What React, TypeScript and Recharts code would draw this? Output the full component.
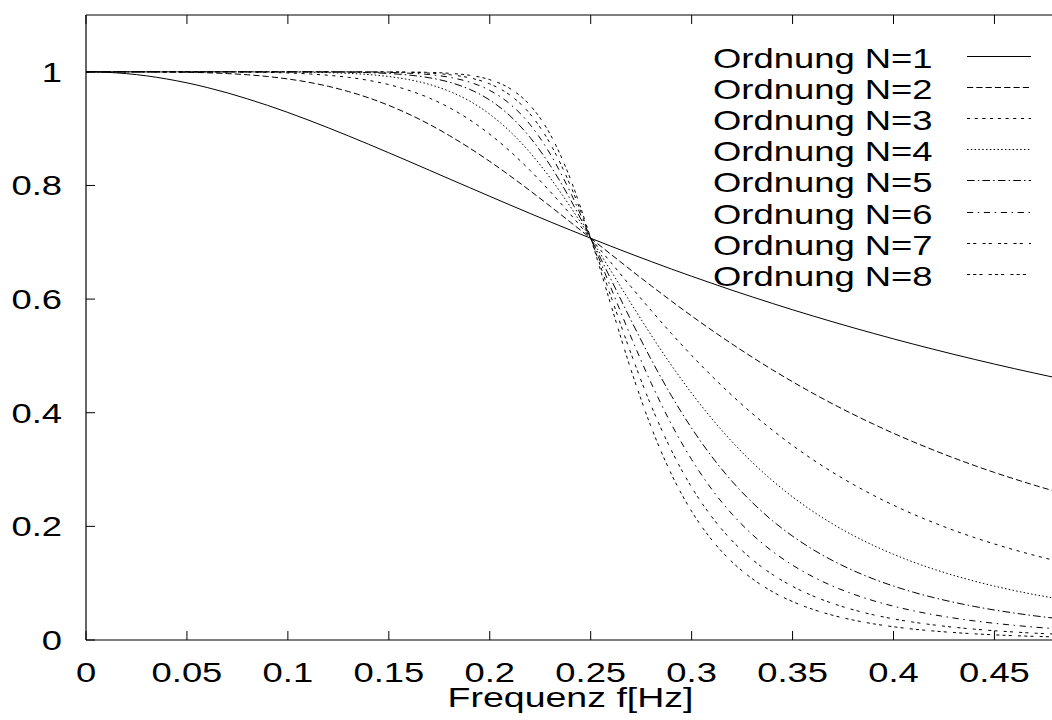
import { LineChart, Line, XAxis, YAxis, Legend } from 'recharts';

// Frequenz-Stützstellen (Hz)
const freq = [
  0, 0.01, 0.02, 0.03, 0.04, 0.05, 0.06, 0.07, 0.08, 0.09,
  0.1, 0.11, 0.12, 0.13, 0.14, 0.15, 0.16, 0.17, 0.18, 0.19,
  0.2, 0.21, 0.22, 0.23, 0.24, 0.25, 0.26, 0.27, 0.28, 0.29,
  0.3, 0.31, 0.32, 0.33, 0.34, 0.35, 0.36, 0.37, 0.38, 0.39,
  0.4, 0.41, 0.42, 0.43, 0.44, 0.45, 0.46, 0.47, 0.48,
];

// Amplitudengang je Ordnung
const n1 = [1, 0.9992, 0.9968, 0.9929, 0.9874, 0.9806, 0.9724, 0.963, 0.9524, 0.9409, 0.9285, 0.9153, 0.9015, 0.8872, 0.8725, 0.8575, 0.8423, 0.8269, 0.8115, 0.7962, 0.7809, 0.7657, 0.7507, 0.7359, 0.7214, 0.7071, 0.6931, 0.6794, 0.666, 0.6529, 0.6402, 0.6278, 0.6156, 0.6039, 0.5924, 0.5812, 0.5704, 0.5599, 0.5496, 0.5397, 0.53, 0.5206, 0.5115, 0.5026, 0.494, 0.4856, 0.4775, 0.4696, 0.4619];
const n2 = [1, 1, 1, 0.9999, 0.9997, 0.9992, 0.9983, 0.9969, 0.9948, 0.9917, 0.9874, 0.9818, 0.9745, 0.9653, 0.9542, 0.9409, 0.9254, 0.9077, 0.8878, 0.8659, 0.8423, 0.8171, 0.7906, 0.7633, 0.7353, 0.7071, 0.6789, 0.6509, 0.6234, 0.5965, 0.5704, 0.5452, 0.521, 0.4978, 0.4756, 0.4545, 0.4344, 0.4153, 0.3972, 0.3801, 0.3638, 0.3485, 0.334, 0.3202, 0.3072, 0.2949, 0.2833, 0.2722, 0.2618];
const n3 = [1, 1, 1, 1, 1, 1, 0.9999, 0.9998, 0.9995, 0.9989, 0.998, 0.9964, 0.9939, 0.9903, 0.9849, 0.9775, 0.9673, 0.954, 0.9369, 0.9157, 0.8901, 0.8603, 0.8264, 0.789, 0.749, 0.7071, 0.6644, 0.6217, 0.5799, 0.5394, 0.5009, 0.4645, 0.4304, 0.3987, 0.3694, 0.3424, 0.3176, 0.2948, 0.2739, 0.2547, 0.2372, 0.2211, 0.2064, 0.1928, 0.1804, 0.169, 0.1585, 0.1488, 0.1399];
const n4 = [1, 1, 1, 1, 1, 1, 1, 1, 0.9999, 0.9999, 0.9997, 0.9993, 0.9986, 0.9973, 0.9952, 0.9917, 0.9862, 0.9779, 0.9657, 0.9486, 0.9254, 0.8952, 0.8576, 0.8129, 0.7622, 0.7071, 0.6498, 0.5923, 0.5364, 0.4835, 0.4344, 0.3896, 0.3491, 0.3128, 0.2806, 0.2519, 0.2265, 0.204, 0.1841, 0.1665, 0.1508, 0.1369, 0.1246, 0.1135, 0.1037, 0.0948, 0.0869, 0.0798, 0.0734];
const n5 = [1, 1, 1, 1, 1, 1, 1, 1, 1, 1, 0.9999, 0.9999, 0.9997, 0.9993, 0.9985, 0.997, 0.9943, 0.9896, 0.9818, 0.9693, 0.9503, 0.9226, 0.8844, 0.835, 0.775, 0.7071, 0.635, 0.5626, 0.4935, 0.4299, 0.3729, 0.3228, 0.2794, 0.2421, 0.2101, 0.1828, 0.1594, 0.1395, 0.1223, 0.1076, 0.0949, 0.084, 0.0745, 0.0663, 0.0591, 0.0528, 0.0474, 0.0425, 0.0383];
const n6 = [1, 1, 1, 1, 1, 1, 1, 1, 1, 1, 1, 1, 0.9999, 0.9998, 0.9995, 0.9989, 0.9976, 0.9952, 0.9904, 0.9819, 0.9673, 0.9435, 0.907, 0.8551, 0.7875, 0.7071, 0.62, 0.5331, 0.4519, 0.3797, 0.3176, 0.2652, 0.2217, 0.1858, 0.1561, 0.1317, 0.1115, 0.0947, 0.0808, 0.0692, 0.0595, 0.0513, 0.0444, 0.0386, 0.0336, 0.0294, 0.0258, 0.0226, 0.02];
const n7 = [1, 1, 1, 1, 1, 1, 1, 1, 1, 1, 1, 1, 1, 0.9999, 0.9999, 0.9996, 0.999, 0.9978, 0.995, 0.9895, 0.9787, 0.9591, 0.9257, 0.8733, 0.7994, 0.7071, 0.605, 0.504, 0.4121, 0.3336, 0.2688, 0.2166, 0.1749, 0.1418, 0.1154, 0.0944, 0.0777, 0.0642, 0.0533, 0.0444, 0.0372, 0.0313, 0.0265, 0.0224, 0.0191, 0.0163, 0.014, 0.012, 0.0104];
const n8 = [1, 1, 1, 1, 1, 1, 1, 1, 1, 1, 1, 1, 1, 1, 1, 0.9999, 0.9996, 0.999, 0.9974, 0.9939, 0.9862, 0.9706, 0.941, 0.8897, 0.811, 0.7071, 0.59, 0.4753, 0.3745, 0.2918, 0.2265, 0.1761, 0.1375, 0.1079, 0.0851, 0.0676, 0.054, 0.0434, 0.0351, 0.0285, 0.0233, 0.0191, 0.0158, 0.0131, 0.0109, 0.0091, 0.0076, 0.0064, 0.0054];

const xTicks = [0, 0.05, 0.1, 0.15, 0.2, 0.25, 0.3, 0.35, 0.4, 0.45];
const yTicks = [0, 0.2, 0.4, 0.6, 0.8, 1];
const seriesNames = ['Ordnung N=1', 'Ordnung N=2', 'Ordnung N=3', 'Ordnung N=4', 'Ordnung N=5', 'Ordnung N=6', 'Ordnung N=7', 'Ordnung N=8'];

const FONT = '"Liberation Sans", Arial, Helvetica, sans-serif';

// gnuplot-artige Strichmuster
const series = [
  { key: 'n1', values: n1, dash: undefined },
  { key: 'n2', values: n2, dash: '6.2 3.1' },
  { key: 'n3', values: n3, dash: '3.1 4.6' },
  { key: 'n4', values: n4, dash: '1.5 2.3' },
  { key: 'n5', values: n5, dash: '7.7 3.1 1.5 3.1' },
  { key: 'n6', values: n6, dash: '6.2 4.6 1.5 4.6' },
  { key: 'n7', values: n7, dash: '3.1 3.1 3.1 6.2' },
  { key: 'n8', values: n8, dash: '3.1 3.1 3.1 3.1 3.1 6.2' },
].map((s, i) => ({ ...s, name: seriesNames[i] }));

const data = freq.map((f, i) => {
  const row: any = { f };
  series.forEach((s) => (row[s.key] = s.values[i]));
  return row;
});

function BottomTick({ x, y, payload }: any) {
  return (
    <g>
      <line x1={x} x2={x} y1={y} y2={y - 9} stroke="#000" />
      <text transform={`translate(${x},${y + 42}) scale(1.3,1)`} textAnchor="middle" fontSize={28} fontFamily={FONT} fill="#000">
        {payload.value}
      </text>
    </g>
  );
}

function TopTick({ x, y }: any) {
  return <line x1={x} x2={x} y1={y} y2={y + 9} stroke="#000" />;
}

function LeftTick({ x, y, payload }: any) {
  return (
    <g>
      <line x1={x} x2={x + 9} y1={y} y2={y} stroke="#000" />
      <text transform={`translate(${x - 24},${y + 10}) scale(1.3,1)`} textAnchor="end" fontSize={28} fontFamily={FONT} fill="#000">
        {payload.value}
      </text>
    </g>
  );
}

const renderXLabel = ({ viewBox }: any) => (
  <text
    transform={`translate(${viewBox.x + viewBox.width / 2},${viewBox.y + 67}) scale(1.34,1)`}
    textAnchor="middle"
    fontSize={28}
    fontFamily={FONT}
    fill="#000"
  >
    Frequenz f[Hz]
  </text>
);

const renderLegend = () => (
  <div style={{ fontFamily: FONT, fontSize: 28, color: '#000' }}>
    {series.map((s) => (
      <div key={s.key} style={{ position: 'relative', height: 31.2, lineHeight: '31.2px', whiteSpace: 'nowrap' }}>
        <span style={{ display: 'inline-block', transform: 'scaleX(1.3)', transformOrigin: 'left center' }}>{s.name}</span>
        <svg width={64} height={31} style={{ position: 'absolute', left: 254, top: 0 }}>
          <line x1={0} x2={64} y1={13.5} y2={13.5} stroke="#000" strokeWidth={1} strokeDasharray={s.dash} />
        </svg>
      </div>
    ))}
  </div>
);

export default function App() {
  return (
    <div style={{ position: 'absolute', left: 0, top: 0, width: 1052, height: 720, overflow: 'hidden', background: '#fff' }}>
      <LineChart width={1060} height={720} data={data} margin={{ top: 0, right: 5, bottom: 0, left: 0 }}>
        <XAxis
          dataKey="f"
          type="number"
          domain={[0, 0.48]}
          ticks={xTicks}
          interval={0}
          height={80}
          tickSize={0}
          tickMargin={0}
          tickLine={false}
          tick={<BottomTick />}
          axisLine={{ stroke: '#000', strokeWidth: 1.2 }}
          label={renderXLabel}
        />
        <XAxis
          xAxisId="top"
          orientation="top"
          dataKey="f"
          type="number"
          domain={[0, 0.48]}
          ticks={xTicks}
          interval={0}
          height={15}
          tickSize={0}
          tickMargin={0}
          tickLine={false}
          tick={<TopTick />}
          axisLine={{ stroke: '#000', strokeWidth: 1.2 }}
        />
        <YAxis
          type="number"
          domain={[0, 1.1]}
          ticks={yTicks}
          interval={0}
          width={86}
          tickSize={0}
          tickMargin={0}
          tickLine={false}
          tick={<LeftTick />}
          axisLine={{ stroke: '#000', strokeWidth: 1.2 }}
        />
        <Legend
          content={renderLegend}
          layout="vertical"
          align="center"
          verticalAlign="middle"
          wrapperStyle={{ left: 713, top: 42.7, width: 340 }}
        />
        {series.map((s) => (
          <Line
            key={s.key}
            dataKey={s.key}
            name={s.name}
            type="monotone"
            stroke="#000"
            strokeWidth={1}
            strokeDasharray={s.dash}
            dot={false}
            activeDot={false}
            isAnimationActive={false}
          />
        ))}
      </LineChart>
    </div>
  );
}
